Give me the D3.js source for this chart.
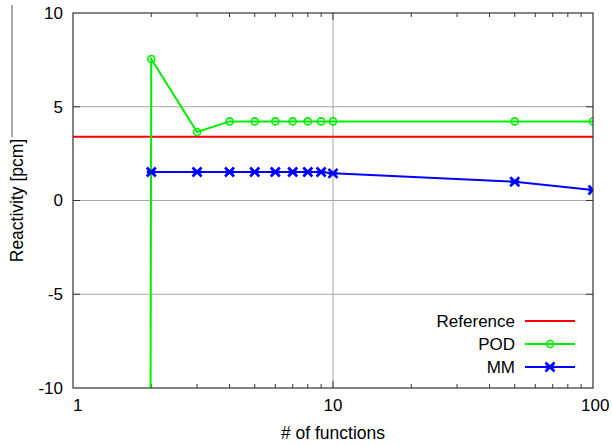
<!DOCTYPE html>
<html>
<head>
<meta charset="utf-8">
<script src="https://cdn.jsdelivr.net/npm/d3@7"></script>
<style>
  body { margin: 0; background: #fff; }
  svg { font-family: "Liberation Sans", Arial, sans-serif; }
</style>
</head>
<body>
<svg id="chart" width="612" height="445"></svg>
<script>
// data
const referenceValue = 3.4;
const podX = [1, 2, 3, 4, 5, 6, 7, 8, 9, 10, 50, 100];
const podY = [-2000, 7.55, 3.65, 4.22, 4.22, 4.22, 4.22, 4.22, 4.22, 4.22, 4.22, 4.22];
const mmX = [2, 3, 4, 5, 6, 7, 8, 9, 10, 50, 100];
const mmY = [1.52, 1.52, 1.52, 1.52, 1.52, 1.52, 1.52, 1.52, 1.45, 1.0, 0.56];
const yTicks = [-10, -5, 0, 5, 10];
const xTicks = [1, 10, 100];
const legendItems = [
  { label: "Reference", color: "#ff0000", marker: null },
  { label: "POD", color: "#00ee00", marker: "circle" },
  { label: "MM", color: "#0000ff", marker: "star" }
];

const margin = { top: 13, right: 19, bottom: 57, left: 73 };
const width = 612, height = 445;
const innerW = width - margin.left - margin.right;
const innerH = height - margin.top - margin.bottom;

const svg = d3.select("#chart");
const g = svg.append("g").attr("transform", `translate(${margin.left},${margin.top})`);

const x = d3.scaleLog().domain([1, 100]).range([0, innerW]);
const y = d3.scaleLinear().domain([-10, 10]).range([innerH, 0]);

// grid
g.selectAll(".hgrid").data(yTicks.filter(d => d > -10 && d < 10)).join("line")
  .attr("x1", 0).attr("x2", innerW)
  .attr("y1", d => y(d)).attr("y2", d => y(d))
  .attr("stroke", "#a8a8a8").attr("stroke-width", 1);
g.selectAll(".vgrid").data([10]).join("line")
  .attr("x1", d => x(d)).attr("x2", d => x(d))
  .attr("y1", 0).attr("y2", innerH)
  .attr("stroke", "#a8a8a8").attr("stroke-width", 1);

// minor ticks on top & bottom
const minor = [];
for (const dec of [1, 10]) for (let k = 2; k <= 9; k++) minor.push(dec * k);
const tickG = g.append("g").attr("stroke", "#333").attr("stroke-width", 1);
minor.forEach(v => {
  tickG.append("line").attr("x1", x(v)).attr("x2", x(v)).attr("y1", innerH).attr("y2", innerH - 4);
  tickG.append("line").attr("x1", x(v)).attr("x2", x(v)).attr("y1", 0).attr("y2", 4);
});
[10].forEach(v => {
  tickG.append("line").attr("x1", x(v)).attr("x2", x(v)).attr("y1", innerH).attr("y2", innerH - 7);
  tickG.append("line").attr("x1", x(v)).attr("x2", x(v)).attr("y1", 0).attr("y2", 7);
});
yTicks.filter(d => d > -10 && d < 10).forEach(v => {
  tickG.append("line").attr("x1", 0).attr("x2", 7).attr("y1", y(v)).attr("y2", y(v));
  tickG.append("line").attr("x1", innerW).attr("x2", innerW - 7).attr("y1", y(v)).attr("y2", y(v));
});

// clip for data
svg.append("defs").append("clipPath").attr("id", "clip")
  .append("rect").attr("x", 0).attr("y", 0).attr("width", innerW).attr("height", innerH);
const plot = g.append("g").attr("clip-path", "url(#clip)");

const line = d3.line().x(d => x(d[0])).y(d => y(d[1]));

// reference
plot.append("line")
  .attr("x1", x(1)).attr("x2", x(100))
  .attr("y1", y(referenceValue)).attr("y2", y(referenceValue))
  .attr("stroke", "#ff0000").attr("stroke-width", 2);

// POD
const podData = podX.map((v, i) => [v, podY[i]]);
plot.append("path").datum(podData).attr("d", line)
  .attr("fill", "none").attr("stroke", "#00ee00").attr("stroke-width", 2);
plot.selectAll(".podpt").data(podData).join("circle")
  .attr("cx", d => x(d[0])).attr("cy", d => y(d[1])).attr("r", 3.5)
  .attr("fill", "none").attr("stroke", "#00ee00").attr("stroke-width", 1.6);

// MM
const mmData = mmX.map((v, i) => [v, mmY[i]]);
plot.append("path").datum(mmData).attr("d", line)
  .attr("fill", "none").attr("stroke", "#0000ff").attr("stroke-width", 2);
const star = d3.symbol().type(d3.symbolX).size(55);
const drawStar = (sel, cx, cy, color) => {
  const s = sel.append("g").attr("transform", `translate(${cx},${cy})`);
  s.append("path").attr("d", star()).attr("stroke", color).attr("stroke-width", 2.6).attr("fill", "none");
  s.append("rect").attr("x", -4.5).attr("y", -1.5).attr("width", 9).attr("height", 3).attr("fill", color);
};
mmData.forEach(d => drawStar(plot, x(d[0]), y(d[1]), "#0000ff"));

// frame
g.append("rect").attr("width", innerW).attr("height", innerH)
  .attr("fill", "none").attr("stroke", "#333").attr("stroke-width", 1.2);

// tick labels
g.selectAll(".ylab").data(yTicks).join("text")
  .attr("x", -10).attr("y", d => y(d)).attr("dy", "0.35em")
  .attr("text-anchor", "end").attr("font-size", 17).attr("fill", "#000")
  .text(d => d);
g.selectAll(".xlab").data(xTicks).join("text")
  .attr("x", d => d === 100 ? x(d) - 12 : x(d)).attr("y", innerH + 23)
  .attr("text-anchor", d => d === 1 ? "start" : d === 100 ? "start" : "middle")
  .attr("font-size", 17).attr("fill", "#000")
  .text(d => d);

// axis titles
svg.append("text")
  .attr("transform", `translate(23,${margin.top + innerH / 2}) rotate(-90)`)
  .attr("text-anchor", "middle").attr("font-size", 17.5).text("Reactivity [pcm]");
svg.append("text")
  .attr("x", margin.left + innerW / 2).attr("y", 439)
  .attr("text-anchor", "middle").attr("font-size", 17.5).text("# of functions");

// stray line at left edge
svg.append("line").attr("x1", 12).attr("x2", 12).attr("y1", 5).attr("y2", 137)
  .attr("stroke", "#555").attr("stroke-width", 1);

// legend
const leg = svg.append("g");
legendItems.forEach((d, i) => {
  const yy = 321 + i * 23;
  leg.append("text").attr("x", 515).attr("y", yy).attr("dy", "0.35em")
    .attr("text-anchor", "end").attr("font-size", 17).text(d.label);
  leg.append("line").attr("x1", 525).attr("x2", 575).attr("y1", yy).attr("y2", yy)
    .attr("stroke", d.color).attr("stroke-width", 2);
  if (d.marker === "circle") {
    leg.append("circle").attr("cx", 550).attr("cy", yy).attr("r", 3.5)
      .attr("fill", "none").attr("stroke", d.color).attr("stroke-width", 1.6);
  } else if (d.marker === "star") {
    drawStar(leg, 550, yy, d.color);
  }
});
</script>
</body>
</html>
